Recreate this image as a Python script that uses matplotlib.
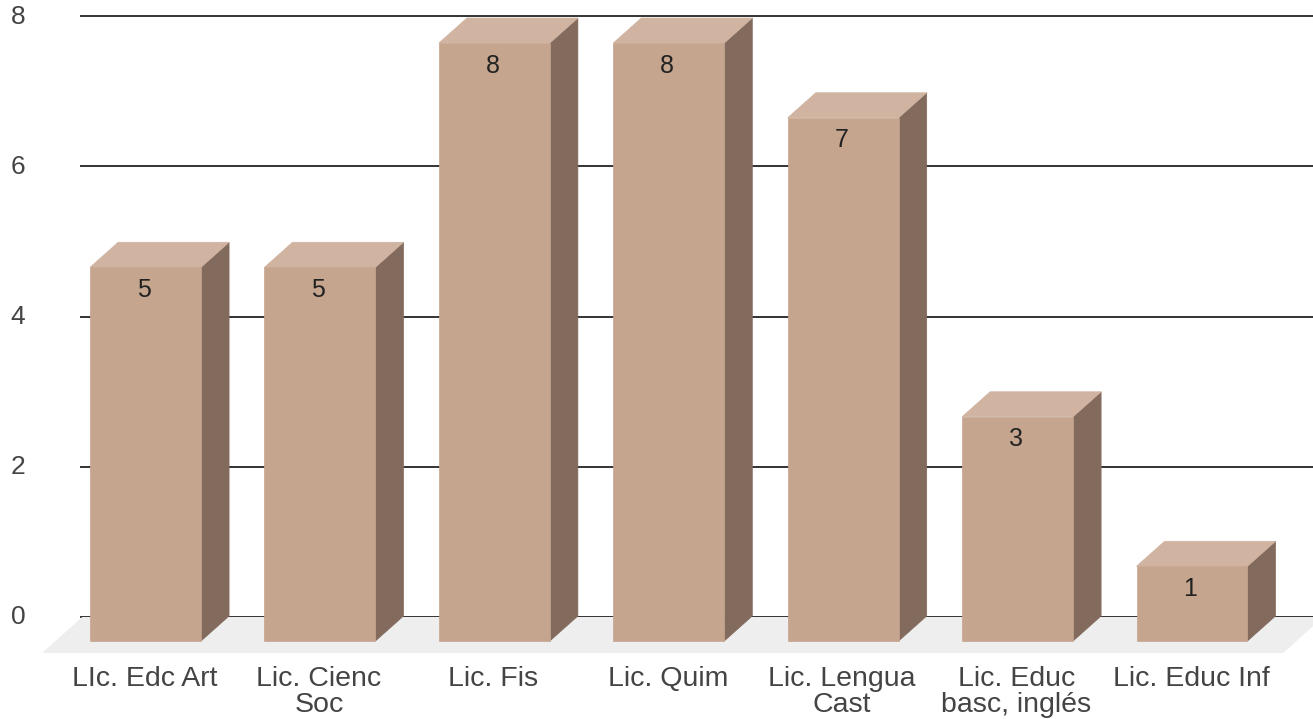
import matplotlib
matplotlib.use("Agg")
import matplotlib.pyplot as plt
from matplotlib.transforms import ScaledTranslation

categories = ["LIc. Edc Art", "Lic. Cienc\nSoc", "Lic. Fis", "Lic. Quim",
              "Lic. Lengua\nCast", "Lic. Educ\nbasc, inglés", "Lic. Educ Inf"]
values = [5, 5, 8, 8, 7, 3, 1]
y_ticks = [0, 2, 4, 6, 8]

front_color = "#C6A58F"
side_color = "#826A5C"
top_color = "#D0B3A1"
floor_color = "#EEEEEE"
text_color = "#444444"

bar_width = 0.636
depth_x = 0.161
depth_y = 0.333
base = -0.32
bar_scale = 0.995  # bars are drawn a bit shorter than the grid spacing

plt.rcParams["font.family"] = ["Liberation Sans", "DejaVu Sans"]

fig = plt.figure(figsize=(13.13, 7.19), dpi=100)
ax = fig.add_axes([81 / 1313, 1 - 617 / 719, 1232 / 1313, 601 / 719])
ax.set_xlim(-0.37, 6.694)
ax.set_ylim(0, 8)

# floor
floor_left = -0.593
floor_right = 6.523
floor_bottom = -0.48
ax.fill([floor_left, floor_right, floor_right + 0.23, floor_left + 0.23],
        [floor_bottom, floor_bottom, 0, 0],
        color=floor_color, lw=0, zorder=1, clip_on=False)

ax.grid(axis="y", color="#333333", lw=1.4, zorder=2, clip_on=False)
ax.set_axisbelow(True)

for i, v in enumerate(values):
    left = i - bar_width / 2
    right = i + bar_width / 2
    top = base + v * bar_scale
    ax.fill([right, right + depth_x, right + depth_x, right],
            [base, base + depth_y, top + depth_y, top],
            color=side_color, lw=0.5, zorder=3, clip_on=False)
    ax.fill([left, right, right + depth_x, left + depth_x],
            [top, top, top + depth_y, top + depth_y],
            color=top_color, lw=0.5, zorder=3, clip_on=False)
    ax.bar(i, v * bar_scale, bottom=base, width=bar_width, color=front_color,
           edgecolor=front_color, lw=0.5, zorder=3.5, clip_on=False)
    ax.text(i - 0.01, top - 0.3, str(v), ha="center", va="center", fontsize=18,
            color="#222222", zorder=4)

ax.set_xticks(range(len(categories)))
ax.set_xticklabels(categories, fontsize=20.5, color=text_color, linespacing=1.0)
ax.set_yticks(y_ticks)
ax.set_yticklabels([str(t) for t in y_ticks], fontsize=19, color=text_color)
ax.tick_params(axis="x", length=0, pad=35)
ax.tick_params(axis="y", length=0, pad=40)
up = ScaledTranslation(0, 2 / 100, fig.dpi_scale_trans)
for lbl in ax.get_yticklabels():
    lbl.set_transform(lbl.get_transform() + up)
left_shift = ScaledTranslation(-1 / 100, 0, fig.dpi_scale_trans)
for lbl in ax.get_xticklabels():
    lbl.set_transform(lbl.get_transform() + left_shift)
for s in ax.spines.values():
    s.set_visible(False)

plt.savefig("out.png", dpi=100)
